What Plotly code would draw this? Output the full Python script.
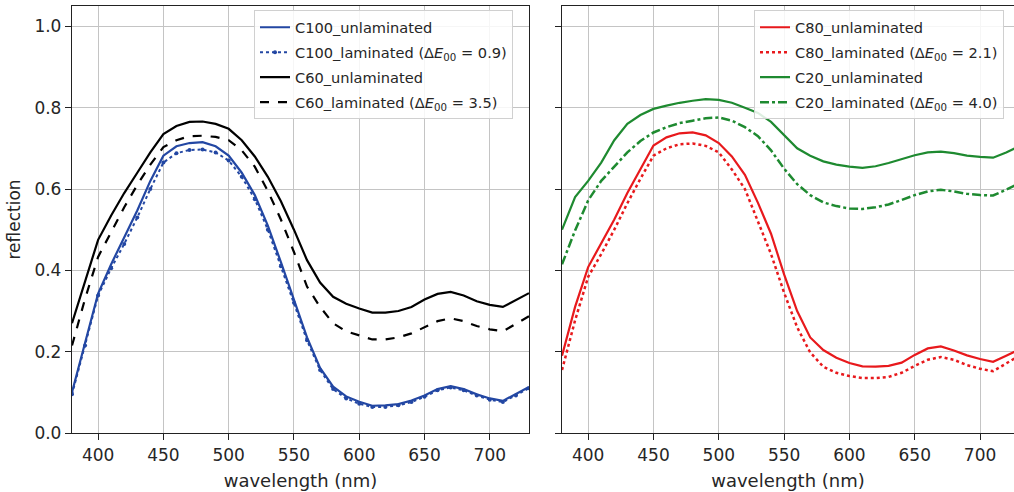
import plotly.graph_objects as go

wavelength = list(range(380, 740, 10))

c100_unlam = [0.100, 0.220, 0.343, 0.415, 0.480, 0.547, 0.620, 0.682, 0.705, 0.713, 0.715, 0.705,
              0.682, 0.640, 0.585, 0.510, 0.420, 0.330, 0.235, 0.160, 0.114, 0.090, 0.077, 0.067,
              0.068, 0.071, 0.080, 0.092, 0.108, 0.115, 0.108, 0.095, 0.085, 0.079, 0.095, 0.113]
c100_lam = [0.095, 0.215, 0.338, 0.405, 0.465, 0.530, 0.600, 0.665, 0.688, 0.696, 0.697, 0.690,
            0.670, 0.630, 0.575, 0.500, 0.410, 0.320, 0.228, 0.155, 0.108, 0.085, 0.072, 0.064,
            0.064, 0.068, 0.076, 0.089, 0.105, 0.112, 0.105, 0.092, 0.082, 0.076, 0.092, 0.110]
c60_unlam = [0.270, 0.375, 0.475, 0.535, 0.590, 0.640, 0.690, 0.735, 0.755, 0.765, 0.766, 0.760,
             0.748, 0.720, 0.680, 0.630, 0.570, 0.500, 0.425, 0.370, 0.335, 0.318, 0.306, 0.296,
             0.296, 0.300, 0.310, 0.328, 0.342, 0.347, 0.338, 0.324, 0.315, 0.310, 0.328, 0.344]
c60_lam = [0.215, 0.330, 0.433, 0.495, 0.555, 0.610, 0.660, 0.703, 0.720, 0.730, 0.731, 0.728,
           0.720, 0.695, 0.655, 0.595, 0.525, 0.445, 0.360, 0.310, 0.270, 0.250, 0.240, 0.230,
           0.230, 0.235, 0.245, 0.260, 0.275, 0.282, 0.275, 0.263, 0.255, 0.250, 0.268, 0.287]

c80_unlam = [0.190, 0.310, 0.408, 0.465, 0.525, 0.590, 0.650, 0.707, 0.727, 0.737, 0.739, 0.732,
             0.713, 0.680, 0.635, 0.566, 0.490, 0.390, 0.300, 0.235, 0.204, 0.185, 0.172, 0.164,
             0.163, 0.165, 0.173, 0.192, 0.208, 0.213, 0.203, 0.191, 0.182, 0.175, 0.190, 0.205]
c80_lam = [0.155, 0.277, 0.384, 0.440, 0.500, 0.565, 0.625, 0.682, 0.700, 0.710, 0.712, 0.706,
           0.690, 0.648, 0.600, 0.520, 0.440, 0.345, 0.260, 0.198, 0.163, 0.148, 0.140, 0.135,
           0.135, 0.138, 0.148, 0.165, 0.180, 0.187, 0.180, 0.167, 0.158, 0.152, 0.170, 0.190]
c20_unlam = [0.500, 0.580, 0.620, 0.665, 0.720, 0.760, 0.782, 0.797, 0.805, 0.812, 0.817, 0.821,
             0.819, 0.812, 0.800, 0.787, 0.765, 0.732, 0.700, 0.682, 0.668, 0.660, 0.655, 0.652,
             0.656, 0.664, 0.673, 0.683, 0.690, 0.692, 0.688, 0.682, 0.679, 0.677, 0.690, 0.705]
c20_lam = [0.415, 0.498, 0.572, 0.620, 0.655, 0.690, 0.718, 0.739, 0.752, 0.762, 0.768, 0.774,
           0.776, 0.768, 0.752, 0.730, 0.695, 0.650, 0.612, 0.585, 0.567, 0.558, 0.552, 0.551,
           0.555, 0.562, 0.573, 0.585, 0.594, 0.598, 0.594, 0.588, 0.585, 0.584, 0.598, 0.614]

y_ticks = [0.0, 0.2, 0.4, 0.6, 0.8, 1.0]
x_ticks = [400, 450, 500, 550, 600, 650, 700]

BLUE = "#2347a3"
RED = "#e8191c"
GREEN = "#1e8a30"
FONT = "DejaVu Sans"
TXT = "#262626"


def de(v):
    return "(Δ<i>E</i><sub>00</sub> = %s)" % v


fig = go.Figure()

# left panel
fig.add_trace(go.Scatter(x=wavelength, y=c100_unlam, mode="lines", name="C100_unlaminated",
                         line=dict(color=BLUE, width=2.2), legend="legend", legendgroup="a"))
fig.add_trace(go.Scatter(x=wavelength, y=c100_lam, mode="lines+markers", name="C100_laminated " + de("0.9"),
                         line=dict(color=BLUE, width=2, dash="dot"), marker=dict(size=4, color=BLUE),
                         legend="legend", legendgroup="b"))
fig.add_trace(go.Scatter(x=wavelength, y=c60_unlam, mode="lines", name="C60_unlaminated",
                         line=dict(color="black", width=2.2), legend="legend", legendgroup="c"))
fig.add_trace(go.Scatter(x=wavelength, y=c60_lam, mode="lines", name="C60_laminated " + de("3.5"),
                         line=dict(color="black", width=2.2, dash="dash"), legend="legend", legendgroup="d"))

# right panel
fig.add_trace(go.Scatter(x=wavelength, y=c80_unlam, mode="lines", name="C80_unlaminated",
                         line=dict(color=RED, width=2.2), xaxis="x2", yaxis="y2",
                         legend="legend2", legendgroup="e"))
fig.add_trace(go.Scatter(x=wavelength, y=c80_lam, mode="lines", name="C80_laminated " + de("2.1"),
                         line=dict(color=RED, width=2.5, dash="dot"), xaxis="x2", yaxis="y2",
                         legend="legend2", legendgroup="f"))
fig.add_trace(go.Scatter(x=wavelength, y=c20_unlam, mode="lines", name="C20_unlaminated",
                         line=dict(color=GREEN, width=2.2), xaxis="x2", yaxis="y2",
                         legend="legend2", legendgroup="g"))
fig.add_trace(go.Scatter(x=wavelength, y=c20_lam, mode="lines", name="C20_laminated " + de("4.0"),
                         line=dict(color=GREEN, width=2.5, dash="dashdot"), xaxis="x2", yaxis="y2",
                         legend="legend2", legendgroup="h"))

axis_common = dict(
    showgrid=True, gridcolor="#c4c4c4", gridwidth=1,
    showline=True, linecolor="#222222", linewidth=1.3,
    ticks="outside", ticklen=6, tickcolor="#222222",
    tickfont=dict(family=FONT, size=17, color=TXT),
    zeroline=False, automargin=False,
)

xa = dict(axis_common, range=[380, 730], tickvals=x_ticks,
          title=dict(text="wavelength (nm)", font=dict(family=FONT, size=18, color=TXT), standoff=10))
ya = dict(axis_common, range=[0, 1.05], tickvals=y_ticks, tickformat=".1f")

legend_common = dict(
    bgcolor="rgba(255,255,255,0.85)", bordercolor="#d0d0d0", borderwidth=1,
    font=dict(family=FONT, size=14.6, color=TXT),
    xanchor="left", yanchor="top", tracegroupgap=3, itemwidth=30,
)

fig.update_layout(
    width=1014, height=492,
    margin=dict(l=72, r=0, t=6, b=59),
    paper_bgcolor="white", plot_bgcolor="white",
    font=dict(family=FONT, color=TXT),
    xaxis=dict(xa, domain=[0, 0.4851], anchor="y", mirror=True),
    yaxis=dict(ya, domain=[0, 1], anchor="x", mirror=True,
               title=dict(text="reflection", font=dict(family=FONT, size=17, color=TXT), standoff=9)),
    xaxis2=dict(xa, domain=[0.5202, 1], anchor="y2", range=[380, 726], mirror=True),
    yaxis2=dict(ya, domain=[0, 1], anchor="x2", showticklabels=False, mirror=False),
    legend=dict(legend_common, x=0.1932, y=0.99),
    legend2=dict(legend_common, x=0.724, y=0.99),
)

# the page's default body margin would shift the whole figure by 8px
fig.write_html("out.html", config={"displayModeBar": False},
               post_script="document.body.style.margin='0';")
